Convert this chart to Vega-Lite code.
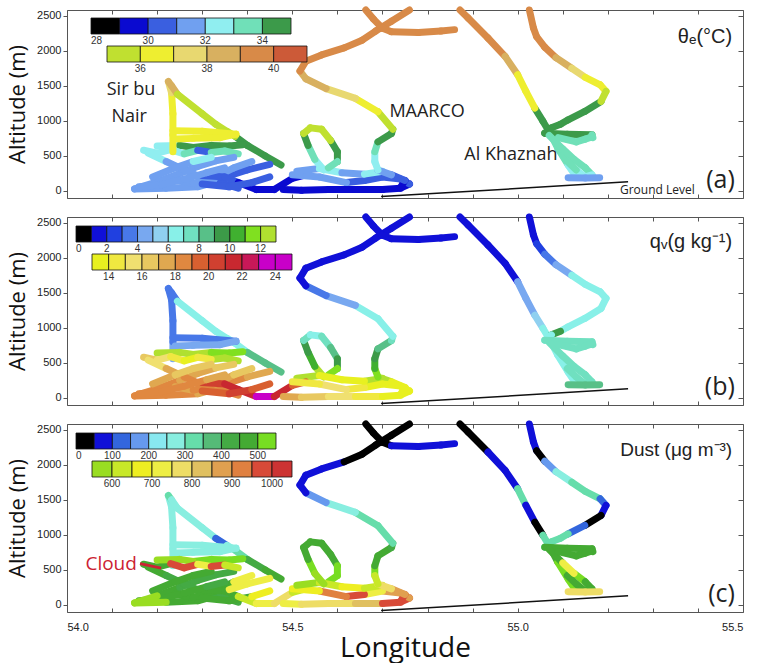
{
  "$schema": "https://vega.github.io/schema/vega-lite/v6.json",
  "padding": {"left": 6, "top": 6, "right": 0, "bottom": 0},
  "background": "white",
  "bounds": "flush",
  "spacing": 19,
  "datasets": {
    "track": [
      {"leg":"s1","lon":54.235,"alt":560,"th":36.5,"qv":4.5,"du":290},
      {"leg":"s1","lon":54.235,"alt":800,"th":36.5,"qv":3.5,"du":280},
      {"leg":"s1","lon":54.235,"alt":1100,"th":36.8,"qv":3.5,"du":270},
      {"leg":"s1","lon":54.232,"alt":1400,"th":37.0,"qv":3.6,"du":270},
      {"leg":"s1","lon":54.225,"alt":1560,"th":38.2,"qv":3.6,"du":300},
      {"leg":"s1","lon":54.232,"alt":1500,"th":38.0,"qv":3.5,"du":280},
      {"leg":"s1","lon":54.245,"alt":1380,"th":35.7,"qv":6.5,"du":280},
      {"leg":"s1","lon":54.30,"alt":1100,"th":35.8,"qv":6.5,"du":260},
      {"leg":"s1","lon":54.33,"alt":950,"th":35.6,"qv":6.5,"du":130},
      {"leg":"s1","lon":54.355,"alt":850,"th":35.5,"qv":6.5,"du":290},
      {"leg":"s1","lon":54.373,"alt":780,"th":34.5,"qv":6.6,"du":300},
      {"leg":"s1","lon":54.40,"alt":650,"th":34.5,"qv":8.5,"du":430},
      {"leg":"s1","lon":54.44,"alt":500,"th":34.3,"qv":8.5,"du":480},
      {"leg":"s1","lon":54.475,"alt":370,"th":33.5,"qv":7.8,"du":470},
      {"leg":"s2","lon":54.235,"alt":860,"th":36.5,"qv":3.5,"du":280},
      {"leg":"s2","lon":54.30,"alt":850,"th":36.6,"qv":3.5,"du":280},
      {"leg":"s2","lon":54.375,"alt":810,"th":36.5,"qv":4.5,"du":290},
      {"leg":"s2","lon":54.34,"alt":760,"th":36.3,"qv":4.8,"du":290},
      {"leg":"s2","lon":54.28,"alt":750,"th":36.2,"qv":4.8,"du":290},
      {"leg":"s2","lon":54.24,"alt":740,"th":36.2,"qv":4.8,"du":290},
      {"leg":"s3","lon":54.20,"alt":640,"th":32.5,"qv":12.5,"du":560},
      {"leg":"s3","lon":54.25,"alt":650,"th":34.5,"qv":12.2,"du":560},
      {"leg":"s3","lon":54.28,"alt":620,"th":34.6,"qv":12.5,"du":540},
      {"leg":"s3","lon":54.32,"alt":650,"th":34.5,"qv":11.5,"du":530},
      {"leg":"s3","lon":54.36,"alt":640,"th":34.5,"qv":11.0,"du":520},
      {"leg":"s3","lon":54.39,"alt":660,"th":34.4,"qv":10.5,"du":500},
      {"leg":"s4","lon":54.17,"alt":580,"th":32.5,"qv":16.5,"du":470},
      {"leg":"s4","lon":54.20,"alt":540,"th":32.6,"qv":15.5,"du":470},
      {"leg":"s4","lon":54.23,"alt":590,"th":32.5,"qv":14,"du":980},
      {"leg":"s4","lon":54.26,"alt":530,"th":33.5,"qv":13.5,"du":980},
      {"leg":"s4","lon":54.29,"alt":580,"th":30.5,"qv":14,"du":700},
      {"leg":"s4","lon":54.32,"alt":550,"th":33.5,"qv":12.5,"du":960},
      {"leg":"s4","lon":54.35,"alt":570,"th":33.5,"qv":12.5,"du":600},
      {"leg":"s4","lon":54.38,"alt":530,"th":34.5,"qv":12,"du":520},
      {"leg":"s5","lon":54.15,"alt":30,"th":31.5,"qv":18,"du":580},
      {"leg":"s5","lon":54.20,"alt":130,"th":31.5,"qv":18,"du":470},
      {"leg":"s5","lon":54.25,"alt":250,"th":31.5,"qv":17.5,"du":440},
      {"leg":"s5","lon":54.29,"alt":350,"th":31.5,"qv":17,"du":430},
      {"leg":"s5","lon":54.33,"alt":430,"th":31.5,"qv":16.5,"du":440},
      {"leg":"s5","lon":54.37,"alt":480,"th":32.0,"qv":15,"du":480},
      {"leg":"s6","lon":54.15,"alt":30,"th":31.5,"qv":18.5,"du":560},
      {"leg":"s6","lon":54.22,"alt":40,"th":31.5,"qv":18,"du":450},
      {"leg":"s6","lon":54.29,"alt":60,"th":31.2,"qv":17.5,"du":450},
      {"leg":"s6","lon":54.33,"alt":130,"th":30.5,"qv":19,"du":440},
      {"leg":"s6","lon":54.36,"alt":220,"th":30.5,"qv":18,"du":700},
      {"leg":"s6","lon":54.40,"alt":300,"th":30.5,"qv":17,"du":720},
      {"leg":"s6","lon":54.45,"alt":380,"th":31.5,"qv":16,"du":560},
      {"leg":"s7","lon":54.18,"alt":540,"th":32.5,"qv":15,"du":480},
      {"leg":"s7","lon":54.22,"alt":420,"th":31.5,"qv":17,"du":440},
      {"leg":"s7","lon":54.26,"alt":300,"th":31.5,"qv":18.5,"du":420},
      {"leg":"s7","lon":54.30,"alt":190,"th":31.3,"qv":18.5,"du":430},
      {"leg":"s7","lon":54.34,"alt":120,"th":30.5,"qv":18,"du":430},
      {"leg":"s7","lon":54.38,"alt":40,"th":30.5,"qv":20,"du":460},
      {"leg":"s8","lon":54.24,"alt":160,"th":31.5,"qv":17.5,"du":480},
      {"leg":"s8","lon":54.28,"alt":110,"th":31.5,"qv":18.5,"du":470},
      {"leg":"s8","lon":54.33,"alt":200,"th":31.0,"qv":17,"du":460},
      {"leg":"s8","lon":54.37,"alt":330,"th":31.2,"qv":16,"du":720},
      {"leg":"s8","lon":54.41,"alt":420,"th":31.5,"qv":15,"du":700},
      {"leg":"s9","lon":54.30,"alt":220,"th":30.5,"qv":20.5,"du":480},
      {"leg":"s9","lon":54.35,"alt":200,"th":30.5,"qv":21,"du":460},
      {"leg":"s9","lon":54.38,"alt":120,"th":29.5,"qv":21.5,"du":600},
      {"leg":"s9","lon":54.42,"alt":20,"th":29.5,"qv":23.5,"du":720},
      {"leg":"s9","lon":54.46,"alt":20,"th":29.5,"qv":21,"du":750},
      {"leg":"s9","lon":54.50,"alt":180,"th":29.8,"qv":19.5,"du":600},
      {"leg":"s9","lon":54.53,"alt":230,"th":30.0,"qv":15,"du":550},
      {"leg":"s10","lon":54.48,"alt":20,"th":29.5,"qv":17.5,"du":700},
      {"leg":"s10","lon":54.52,"alt":10,"th":29.5,"qv":16,"du":780},
      {"leg":"s10","lon":54.58,"alt":20,"th":29.5,"qv":15,"du":760},
      {"leg":"s10","lon":54.64,"alt":20,"th":29.5,"qv":14,"du":800},
      {"leg":"s10","lon":54.70,"alt":20,"th":29.5,"qv":13.5,"du":980},
      {"leg":"s10","lon":54.74,"alt":40,"th":29.8,"qv":13.5,"du":950},
      {"leg":"s10","lon":54.76,"alt":100,"th":30.3,"qv":13.5,"du":880},
      {"leg":"s10","lon":54.74,"alt":170,"th":30.5,"qv":13.5,"du":850},
      {"leg":"s10","lon":54.70,"alt":200,"th":30.5,"qv":13.8,"du":700},
      {"leg":"s10","lon":54.66,"alt":150,"th":30.5,"qv":14.5,"du":950},
      {"leg":"s10","lon":54.62,"alt":120,"th":31.0,"qv":15,"du":930},
      {"leg":"s10","lon":54.56,"alt":200,"th":31.5,"qv":14,"du":650},
      {"leg":"s10","lon":54.50,"alt":230,"th":30.8,"qv":13.8,"du":600},
      {"leg":"s11","lon":54.51,"alt":280,"th":31.5,"qv":12.5,"du":560},
      {"leg":"s11","lon":54.56,"alt":320,"th":32.0,"qv":13,"du":600},
      {"leg":"s11","lon":54.61,"alt":260,"th":31.5,"qv":13.5,"du":650},
      {"leg":"s11","lon":54.66,"alt":240,"th":32.0,"qv":12.5,"du":600},
      {"leg":"s11","lon":54.70,"alt":280,"th":32.2,"qv":12,"du":620},
      {"leg":"s12","lon":54.57,"alt":300,"th":32.5,"qv":12,"du":560},
      {"leg":"s12","lon":54.55,"alt":450,"th":33.5,"qv":10.5,"du":520},
      {"leg":"s12","lon":54.535,"alt":650,"th":34.5,"qv":9.5,"du":480},
      {"leg":"s12","lon":54.525,"alt":820,"th":35.5,"qv":7,"du":470},
      {"leg":"s12","lon":54.54,"alt":900,"th":35.6,"qv":6.8,"du":460},
      {"leg":"s12","lon":54.565,"alt":880,"th":35.5,"qv":7,"du":470},
      {"leg":"s12","lon":54.585,"alt":720,"th":34.6,"qv":8.5,"du":480},
      {"leg":"s12","lon":54.60,"alt":560,"th":34.3,"qv":9.5,"du":500},
      {"leg":"s12","lon":54.60,"alt":420,"th":33.5,"qv":11,"du":540},
      {"leg":"s12","lon":54.58,"alt":330,"th":32.5,"qv":12,"du":560},
      {"leg":"s13","lon":54.74,"alt":50,"th":29.6,"qv":13.5,"du":950},
      {"leg":"s13","lon":54.75,"alt":150,"th":30.5,"qv":13.2,"du":880},
      {"leg":"s13","lon":54.72,"alt":230,"th":31.5,"qv":12.8,"du":760},
      {"leg":"s13","lon":54.69,"alt":300,"th":32.5,"qv":11.5,"du":600},
      {"leg":"s13","lon":54.683,"alt":420,"th":32.5,"qv":10.5,"du":530},
      {"leg":"s13","lon":54.683,"alt":560,"th":33.5,"qv":9.5,"du":480},
      {"leg":"s13","lon":54.69,"alt":700,"th":34.5,"qv":8.5,"du":460},
      {"leg":"s13","lon":54.72,"alt":820,"th":34.5,"qv":7.5,"du":430},
      {"leg":"s13","lon":54.723,"alt":880,"th":35.5,"qv":6.8,"du":330},
      {"leg":"s13","lon":54.69,"alt":1130,"th":36.5,"qv":6.5,"du":300},
      {"leg":"s13","lon":54.64,"alt":1320,"th":37.5,"qv":4.5,"du":280},
      {"leg":"s13","lon":54.575,"alt":1460,"th":38.5,"qv":3.2,"du":150},
      {"leg":"s13","lon":54.53,"alt":1600,"th":38.8,"qv":1.8,"du":90},
      {"leg":"s13","lon":54.517,"alt":1710,"th":39.2,"qv":1.5,"du":80},
      {"leg":"s13","lon":54.53,"alt":1850,"th":39.5,"qv":1.5,"du":80},
      {"leg":"s13","lon":54.565,"alt":1940,"th":39.5,"qv":1.5,"du":90},
      {"leg":"s13","lon":54.615,"alt":2040,"th":39.5,"qv":1.5,"du":30},
      {"leg":"s13","lon":54.655,"alt":2150,"th":39.5,"qv":1.5,"du":20},
      {"leg":"s13","lon":54.685,"alt":2280,"th":39.5,"qv":1.5,"du":20},
      {"leg":"s13","lon":54.72,"alt":2420,"th":39.5,"qv":1.5,"du":20},
      {"leg":"s13","lon":54.76,"alt":2580,"th":39.5,"qv":1.5,"du":20},
      {"leg":"s14","lon":54.663,"alt":2580,"th":39.5,"qv":1.5,"du":20},
      {"leg":"s14","lon":54.68,"alt":2450,"th":39.5,"qv":1.5,"du":20},
      {"leg":"s14","lon":54.70,"alt":2320,"th":39.5,"qv":1.5,"du":20},
      {"leg":"s14","lon":54.72,"alt":2270,"th":39.5,"qv":1.5,"du":80},
      {"leg":"s14","lon":54.78,"alt":2260,"th":39.5,"qv":1.5,"du":70},
      {"leg":"s14","lon":54.83,"alt":2280,"th":39.5,"qv":1.5,"du":80},
      {"leg":"s14","lon":54.86,"alt":2300,"th":39.5,"qv":1.5,"du":80},
      {"leg":"s15","lon":54.872,"alt":2580,"th":39.5,"qv":1.5,"du":20},
      {"leg":"s15","lon":54.89,"alt":2467,"th":39.5,"qv":1.5,"du":20},
      {"leg":"s15","lon":54.934,"alt":2181,"th":39.2,"qv":1.5,"du":70},
      {"leg":"s15","lon":54.972,"alt":1920,"th":38.5,"qv":1.7,"du":70},
      {"leg":"s15","lon":55.0,"alt":1657,"th":36.5,"qv":4.5,"du":300},
      {"leg":"s15","lon":55.018,"alt":1424,"th":36.5,"qv":4.5,"du":80},
      {"leg":"s15","lon":55.038,"alt":1181,"th":34.5,"qv":5.0,"du":40},
      {"leg":"s15","lon":55.056,"alt":995,"th":34.5,"qv":6.0,"du":300},
      {"leg":"s15","lon":55.072,"alt":824,"th":33.5,"qv":6.5,"du":460},
      {"leg":"s15","lon":55.089,"alt":610,"th":33.5,"qv":6.5,"du":500},
      {"leg":"s15","lon":55.112,"alt":371,"th":32.5,"qv":6.8,"du":520},
      {"leg":"s15","lon":55.127,"alt":229,"th":32.5,"qv":6.8,"du":700},
      {"leg":"s16","lon":55.026,"alt":2580,"th":39.5,"qv":1.5,"du":60},
      {"leg":"s16","lon":55.035,"alt":2324,"th":39.5,"qv":1.5,"du":60},
      {"leg":"s16","lon":55.042,"alt":2200,"th":39.3,"qv":2.5,"du":20},
      {"leg":"s16","lon":55.06,"alt":2050,"th":39.0,"qv":3.2,"du":150},
      {"leg":"s16","lon":55.085,"alt":1900,"th":38.3,"qv":4.5,"du":250},
      {"leg":"s16","lon":55.12,"alt":1750,"th":37.5,"qv":6.5,"du":300},
      {"leg":"s16","lon":55.15,"alt":1620,"th":36.5,"qv":6.5,"du":300},
      {"leg":"s16","lon":55.183,"alt":1514,"th":36.5,"qv":6.5,"du":120},
      {"leg":"s16","lon":55.196,"alt":1420,"th":35.5,"qv":6.5,"du":80},
      {"leg":"s16","lon":55.185,"alt":1277,"th":34.5,"qv":6.5,"du":40},
      {"leg":"s16","lon":55.149,"alt":1134,"th":34.5,"qv":6.5,"du":100},
      {"leg":"s16","lon":55.112,"alt":1014,"th":34.5,"qv":6.5,"du":300},
      {"leg":"s16","lon":55.095,"alt":950,"th":34.6,"qv":9.2,"du":300},
      {"leg":"s16","lon":55.075,"alt":900,"th":34.5,"qv":6.5,"du":320},
      {"leg":"s16","lon":55.06,"alt":824,"th":34.5,"qv":6.8,"du":350},
      {"leg":"s17","lon":55.06,"alt":824,"th":34.5,"qv":7.5,"du":450},
      {"leg":"s17","lon":55.11,"alt":810,"th":34.5,"qv":7.5,"du":460},
      {"leg":"s17","lon":55.165,"alt":800,"th":33.5,"qv":7.5,"du":470},
      {"leg":"s17","lon":55.167,"alt":760,"th":33.5,"qv":7.5,"du":470},
      {"leg":"s18","lon":55.07,"alt":790,"th":33.5,"qv":7.5,"du":480},
      {"leg":"s18","lon":55.10,"alt":600,"th":33.5,"qv":7.5,"du":720},
      {"leg":"s18","lon":55.125,"alt":450,"th":33.5,"qv":7.5,"du":500},
      {"leg":"s18","lon":55.15,"alt":330,"th":33.2,"qv":7.5,"du":480},
      {"leg":"s18","lon":55.165,"alt":230,"th":32.5,"qv":7.5,"du":470},
      {"leg":"s18","lon":55.15,"alt":200,"th":32.5,"qv":7.5,"du":470},
      {"leg":"s18","lon":55.13,"alt":300,"th":33.0,"qv":7.5,"du":480},
      {"leg":"s18","lon":55.11,"alt":420,"th":33.3,"qv":7.5,"du":480},
      {"leg":"s19","lon":55.09,"alt":760,"th":33.5,"qv":7.5,"du":480},
      {"leg":"s19","lon":55.13,"alt":700,"th":33.5,"qv":7.5,"du":480},
      {"leg":"s19","lon":55.15,"alt":740,"th":33.5,"qv":7.5,"du":480},
      {"leg":"s19","lon":55.16,"alt":760,"th":33.5,"qv":7.5,"du":480},
      {"leg":"s20","lon":55.112,"alt":190,"th":31.5,"qv":8.5,"du":760},
      {"leg":"s20","lon":55.15,"alt":185,"th":31.5,"qv":8.5,"du":760},
      {"leg":"s20","lon":55.182,"alt":190,"th":31.5,"qv":8.5,"du":760},
      {"leg":"s21","lon":54.16,"alt":60,"th":31.5,"qv":18,"du":470},
      {"leg":"s21","lon":54.21,"alt":90,"th":31.5,"qv":18,"du":460},
      {"leg":"s21","lon":54.26,"alt":170,"th":31.5,"qv":18,"du":450},
      {"leg":"s21","lon":54.31,"alt":260,"th":31.5,"qv":17.5,"du":440},
      {"leg":"s21","lon":54.35,"alt":330,"th":31.5,"qv":17,"du":450},
      {"leg":"s22","lon":54.19,"alt":200,"th":31.5,"qv":17,"du":450},
      {"leg":"s22","lon":54.24,"alt":330,"th":31.8,"qv":16.5,"du":450},
      {"leg":"s22","lon":54.28,"alt":420,"th":32.5,"qv":16,"du":450},
      {"leg":"s22","lon":54.32,"alt":480,"th":32.5,"qv":15,"du":450},
      {"leg":"s23","lon":54.30,"alt":100,"th":30.5,"qv":19,"du":470},
      {"leg":"s23","lon":54.36,"alt":60,"th":30.5,"qv":20,"du":480},
      {"leg":"s23","lon":54.41,"alt":120,"th":30.5,"qv":19,"du":650},
      {"leg":"s23","lon":54.45,"alt":200,"th":30.0,"qv":18,"du":620}
    ]
  },
  "vconcat": [
    {
      "width": 676, "height": 188,
      "layer": [
        {
          "data": {"name": "track"},
          "transform": [
            {"window": [{"op": "lead", "field": "lon", "as": "lon2"}, {"op": "lead", "field": "alt", "as": "alt2"}], "groupby": ["leg"]},
            {"filter": "isValid(datum.lon2) && datum.th < 35"}
          ],
          "mark": {"type": "rule", "strokeWidth": 7, "strokeCap": "round"},
          "encoding": {
            "x": {"field": "lon", "type": "quantitative", "scale": {"domain": [54, 55.5], "nice": false, "zero": false}, "axis": {"values": [54,54.1,54.2,54.3,54.4,54.5,54.6,54.7,54.8,54.9,55,55.1,55.2,55.3,55.4,55.5], "labels": false, "tickSize": -4, "domain": false, "title": null}},
            "x2": {"field": "lon2"},
            "y": {"field": "alt", "type": "quantitative", "scale": {"domain": [-100, 2580], "nice": false, "zero": false}, "axis": {"values": [0,500,1000,1500,2000,2500], "format": "d", "tickSize": 4, "labelPadding": 2, "domain": false, "title": "Altitude (m)", "titleFontSize": 22, "titlePadding": 7}},
            "y2": {"field": "alt2"},
            "color": {"field": "th", "type": "quantitative", "scale": {"type": "threshold", "domain": [29,30,31,32,33,34], "range": ["#000000","#0a0ad0","#3a5fe0","#70a0f0","#90eef0","#70e0b8","#3c9a4a"]}, "legend": {"orient": "top-left", "direction": "horizontal", "gradientLength": 203, "gradientThickness": 7, "title": "\u2800\u2800", "titleOrient": "left", "titlePadding": 0, "labelAlign": "center", "labelExpr": "datum.value < 29 ? '28' : (datum.value % 2 == 0 ? datum.label : '')", "offset": 8, "padding": 0}}
          }
        },
        {
          "data": {"name": "track"},
          "transform": [
            {"window": [{"op": "lead", "field": "lon", "as": "lon2"}, {"op": "lead", "field": "alt", "as": "alt2"}], "groupby": ["leg"]},
            {"filter": "isValid(datum.lon2) && datum.th >= 35"}
          ],
          "mark": {"type": "rule", "strokeWidth": 7, "strokeCap": "round"},
          "encoding": {
            "x": {"field": "lon", "type": "quantitative", "axis": null},
            "x2": {"field": "lon2"},
            "y": {"field": "alt", "type": "quantitative", "axis": null},
            "y2": {"field": "alt2"},
            "color": {"field": "th", "type": "quantitative", "scale": {"type": "threshold", "domain": [36,37,38,39,40], "range": ["#c0e030","#eeee30","#e8d870","#d8b060","#d88a48","#cc5a38"]}, "legend": {"orient": "top-left", "direction": "horizontal", "gradientLength": 174, "gradientThickness": 7, "title": "\u2800\u2800\u2800\u2800", "titleOrient": "left", "titlePadding": 0, "labelAlign": "center", "labelExpr": "datum.value % 2 == 0 ? datum.label : ''", "offset": 8, "padding": 0}}
          }
        },
        {
          "data": {"values": [{"lon": 54.697, "alt": -80}, {"lon": 55.245, "alt": 130}]},
          "mark": {"type": "line", "color": "#111", "strokeWidth": 1.5},
          "encoding": {
            "x": {"field": "lon", "type": "quantitative", "axis": {"orient": "top", "values": [54,54.1,54.2,54.3,54.4,54.5,54.6,54.7,54.8,54.9,55,55.1,55.2,55.3,55.4,55.5], "labels": false, "tickSize": -4, "domain": false, "title": null}},
            "y": {"field": "alt", "type": "quantitative", "axis": {"orient": "right", "values": [0,500,1000,1500,2000,2500], "labels": false, "tickSize": -5, "domain": false, "title": null}}
          }
        },
        {
          "data": {"values": [{"lon": 54.142, "alt": 1440, "label": "Sir bu"}, {"lon": 54.138, "alt": 1055, "label": "Nair"}, {"lon": 54.799, "alt": 1122, "label": "MAARCO"}, {"lon": 54.985, "alt": 511, "label": "Al Khaznah"}]},
          "mark": {"type": "text", "font": "Open Sans", "fontSize": 18, "color": "#222", "align": "center", "baseline": "middle"},
          "encoding": {
            "x": {"field": "lon", "type": "quantitative", "axis": null},
            "y": {"field": "alt", "type": "quantitative", "axis": null},
            "text": {"field": "label"}
          }
        },
        {
          "data": {"values": [{"lon": 55.227, "alt": 14, "label": "Ground Level"}]},
          "mark": {"type": "text", "font": "Open Sans", "fontSize": 12, "color": "#222", "align": "left", "baseline": "middle"},
          "encoding": {
            "x": {"field": "lon", "type": "quantitative", "axis": null},
            "y": {"field": "alt", "type": "quantitative", "axis": null},
            "text": {"field": "label"}
          }
        },
        {
          "data": {"values": [{"lon": 55.476, "alt": 2190, "label": "θₑ(°C)"}]},
          "mark": {"type": "text", "font": "Liberation Sans", "fontSize": 20, "color": "#222", "align": "right", "baseline": "middle"},
          "encoding": {
            "x": {"field": "lon", "type": "quantitative", "axis": null},
            "y": {"field": "alt", "type": "quantitative", "axis": null},
            "text": {"field": "label"}
          }
        },
        {
          "data": {"values": [{"lon": 55.482, "alt": 150, "label": "(a)"}]},
          "mark": {"type": "text", "font": "Open Sans", "fontSize": 25, "color": "#222", "align": "right", "baseline": "middle"},
          "encoding": {
            "x": {"field": "lon", "type": "quantitative", "axis": null},
            "y": {"field": "alt", "type": "quantitative", "axis": null},
            "text": {"field": "label"}
          }
        }
      ],
      "resolve": {"scale": {"color": "independent"}, "axis": {"x": "independent", "y": "independent"}}
    },
    {
      "width": 676, "height": 188,
      "layer": [
        {
          "data": {"name": "track"},
          "transform": [
            {"window": [{"op": "lead", "field": "lon", "as": "lon2"}, {"op": "lead", "field": "alt", "as": "alt2"}], "groupby": ["leg"]},
            {"filter": "isValid(datum.lon2) && datum.qv < 13"}
          ],
          "mark": {"type": "rule", "strokeWidth": 7, "strokeCap": "round"},
          "encoding": {
            "x": {"field": "lon", "type": "quantitative", "scale": {"domain": [54, 55.5], "nice": false, "zero": false}, "axis": {"values": [54,54.1,54.2,54.3,54.4,54.5,54.6,54.7,54.8,54.9,55,55.1,55.2,55.3,55.4,55.5], "labels": false, "tickSize": -4, "domain": false, "title": null}},
            "x2": {"field": "lon2"},
            "y": {"field": "alt", "type": "quantitative", "scale": {"domain": [-100, 2580], "nice": false, "zero": false}, "axis": {"values": [0,500,1000,1500,2000,2500], "format": "d", "tickSize": 4, "labelPadding": 2, "domain": false, "title": "Altitude (m)", "titleFontSize": 22, "titlePadding": 7}},
            "y2": {"field": "alt2"},
            "color": {"field": "qv", "type": "quantitative", "scale": {"type": "threshold", "domain": [1,2,3,4,5,6,7,8,9,10,11,12], "range": ["#000000","#1010d8","#2040e0","#4878e8","#78a8f0","#90d0f0","#88f0e8","#70e0c0","#58c088","#3c9a48","#40b030","#80e020","#b0e030"]}, "legend": {"orient": "top-left", "direction": "horizontal", "gradientLength": 234, "gradientThickness": 7, "title": null, "labelAlign": "center", "labelExpr": "datum.value < 1 ? '0' : (datum.value % 2 == 0 ? datum.label : '')", "offset": 9, "padding": 0}}
          }
        },
        {
          "data": {"name": "track"},
          "transform": [
            {"window": [{"op": "lead", "field": "lon", "as": "lon2"}, {"op": "lead", "field": "alt", "as": "alt2"}], "groupby": ["leg"]},
            {"filter": "isValid(datum.lon2) && datum.qv >= 13"}
          ],
          "mark": {"type": "rule", "strokeWidth": 7, "strokeCap": "round"},
          "encoding": {
            "x": {"field": "lon", "type": "quantitative", "axis": null},
            "x2": {"field": "lon2"},
            "y": {"field": "alt", "type": "quantitative", "axis": null},
            "y2": {"field": "alt2"},
            "color": {"field": "qv", "type": "quantitative", "scale": {"type": "threshold", "domain": [14,15,16,17,18,19,20,21,22,23,24], "range": ["#e8f020","#f0e840","#f0e070","#e8c860","#e0a850","#e08840","#d86030","#d04030","#c82830","#c81858","#c800c8","#c800c8"]}, "legend": {"orient": "top-left", "direction": "horizontal", "gradientLength": 216, "gradientThickness": 7, "title": "\u2800\u2800", "titleOrient": "left", "titlePadding": 0, "labelAlign": "center", "labelExpr": "datum.value % 2 == 0 ? datum.label : ''", "offset": 9, "padding": 0}}
          }
        },
        {
          "data": {"values": [{"lon": 54.697, "alt": -80}, {"lon": 55.245, "alt": 130}]},
          "mark": {"type": "line", "color": "#111", "strokeWidth": 1.5},
          "encoding": {
            "x": {"field": "lon", "type": "quantitative", "axis": {"orient": "top", "values": [54,54.1,54.2,54.3,54.4,54.5,54.6,54.7,54.8,54.9,55,55.1,55.2,55.3,55.4,55.5], "labels": false, "tickSize": -4, "domain": false, "title": null}},
            "y": {"field": "alt", "type": "quantitative", "axis": {"orient": "right", "values": [0,500,1000,1500,2000,2500], "labels": false, "tickSize": -5, "domain": false, "title": null}}
          }
        },
        {
          "data": {"values": [{"lon": 55.476, "alt": 2230, "label": "qᵥ(g kg⁻¹)"}]},
          "mark": {"type": "text", "font": "Liberation Sans", "fontSize": 20, "color": "#222", "align": "right", "baseline": "middle"},
          "encoding": {
            "x": {"field": "lon", "type": "quantitative", "axis": null},
            "y": {"field": "alt", "type": "quantitative", "axis": null},
            "text": {"field": "label"}
          }
        },
        {
          "data": {"values": [{"lon": 55.482, "alt": 160, "label": "(b)"}]},
          "mark": {"type": "text", "font": "Open Sans", "fontSize": 25, "color": "#222", "align": "right", "baseline": "middle"},
          "encoding": {
            "x": {"field": "lon", "type": "quantitative", "axis": null},
            "y": {"field": "alt", "type": "quantitative", "axis": null},
            "text": {"field": "label"}
          }
        }
      ],
      "resolve": {"scale": {"color": "independent"}, "axis": {"x": "independent", "y": "independent"}}
    },
    {
      "width": 676, "height": 188,
      "layer": [
        {
          "data": {"name": "track"},
          "transform": [
            {"window": [{"op": "lead", "field": "lon", "as": "lon2"}, {"op": "lead", "field": "alt", "as": "alt2"}], "groupby": ["leg"]},
            {"filter": "isValid(datum.lon2) && datum.du < 550"}
          ],
          "mark": {"type": "rule", "strokeWidth": 7, "strokeCap": "round"},
          "encoding": {
            "x": {"field": "lon", "type": "quantitative", "scale": {"domain": [54, 55.5], "nice": false, "zero": false}, "axis": {"values": [54,54.1,54.2,54.3,54.4,54.5,54.6,54.7,54.8,54.9,55,55.1,55.2,55.3,55.4,55.5], "labelExpr": "abs(datum.value*2 - round(datum.value*2)) < 0.001 ? format(datum.value, '.1f') : ''", "tickSize": -4, "labelPadding": 13, "domain": false, "title": "Longitude", "titleFontSize": 28, "titlePadding": 2}},
            "x2": {"field": "lon2"},
            "y": {"field": "alt", "type": "quantitative", "scale": {"domain": [-100, 2580], "nice": false, "zero": false}, "axis": {"values": [0,500,1000,1500,2000,2500], "format": "d", "tickSize": 4, "labelPadding": 2, "domain": false, "title": "Altitude (m)", "titleFontSize": 22, "titlePadding": 7}},
            "y2": {"field": "alt2"},
            "color": {"field": "du", "type": "quantitative", "scale": {"type": "threshold", "domain": [50,100,150,200,250,300,350,400,450,500], "range": ["#000000","#1010d8","#3366dd","#6699ee","#88e8f0","#88eee0","#66ddaa","#55bb77","#44aa44","#44aa33","#77dd22"]}, "legend": {"orient": "top-left", "direction": "horizontal", "gradientLength": 237, "gradientThickness": 7, "title": null, "labelAlign": "center", "labelExpr": "datum.value < 50 ? '0' : (datum.value % 100 == 0 ? datum.label : '')", "offset": 9, "padding": 0}}
          }
        },
        {
          "data": {"name": "track"},
          "transform": [
            {"window": [{"op": "lead", "field": "lon", "as": "lon2"}, {"op": "lead", "field": "alt", "as": "alt2"}], "groupby": ["leg"]},
            {"filter": "isValid(datum.lon2) && datum.du >= 550"}
          ],
          "mark": {"type": "rule", "strokeWidth": 7, "strokeCap": "round"},
          "encoding": {
            "x": {"field": "lon", "type": "quantitative", "axis": null},
            "x2": {"field": "lon2"},
            "y": {"field": "alt", "type": "quantitative", "axis": null},
            "y2": {"field": "alt2"},
            "color": {"field": "du", "type": "quantitative", "scale": {"type": "threshold", "domain": [600,650,700,750,800,850,900,950,1000], "range": ["#99dd22","#c8e828","#eeee22","#eeee44","#eedd66","#e0c060","#e0a050","#e08040","#d84a38","#cc3333"]}, "legend": {"orient": "top-left", "direction": "horizontal", "gradientLength": 215, "gradientThickness": 7, "title": "\u2800\u2800", "titleOrient": "left", "titlePadding": 0, "labelAlign": "center", "labelExpr": "datum.value % 100 == 0 ? datum.label : ''", "offset": 9, "padding": 0}}
          }
        },
        {
          "data": {"values": [{"lon": 54.697, "alt": -80}, {"lon": 55.245, "alt": 130}]},
          "mark": {"type": "line", "color": "#111", "strokeWidth": 1.5},
          "encoding": {
            "x": {"field": "lon", "type": "quantitative", "axis": {"orient": "top", "values": [54,54.1,54.2,54.3,54.4,54.5,54.6,54.7,54.8,54.9,55,55.1,55.2,55.3,55.4,55.5], "labels": false, "tickSize": -4, "domain": false, "title": null}},
            "y": {"field": "alt", "type": "quantitative", "axis": {"orient": "right", "values": [0,500,1000,1500,2000,2500], "labels": false, "tickSize": -5, "domain": false, "title": null}}
          }
        },
        {
          "data": {"values": [{"lon": 54.162, "alt": 590}, {"lon": 54.209, "alt": 525}]},
          "mark": {"type": "line", "color": "#cc2233", "strokeWidth": 3},
          "encoding": {
            "x": {"field": "lon", "type": "quantitative", "axis": null},
            "y": {"field": "alt", "type": "quantitative", "axis": null}
          }
        },
        {
          "data": {"values": [{"lon": 54.098, "alt": 590, "label": "Cloud"}]},
          "mark": {"type": "text", "font": "Open Sans", "fontSize": 19, "color": "#cc2233", "align": "center", "baseline": "middle"},
          "encoding": {
            "x": {"field": "lon", "type": "quantitative", "axis": null},
            "y": {"field": "alt", "type": "quantitative", "axis": null},
            "text": {"field": "label"}
          }
        },
        {
          "data": {"values": [{"lon": 55.476, "alt": 2210, "label": "Dust (μg m⁻³)"}]},
          "mark": {"type": "text", "font": "Liberation Sans", "fontSize": 19, "color": "#222", "align": "right", "baseline": "middle"},
          "encoding": {
            "x": {"field": "lon", "type": "quantitative", "axis": null},
            "y": {"field": "alt", "type": "quantitative", "axis": null},
            "text": {"field": "label"}
          }
        },
        {
          "data": {"values": [{"lon": 55.482, "alt": 150, "label": "(c)"}]},
          "mark": {"type": "text", "font": "Open Sans", "fontSize": 25, "color": "#222", "align": "right", "baseline": "middle"},
          "encoding": {
            "x": {"field": "lon", "type": "quantitative", "axis": null},
            "y": {"field": "alt", "type": "quantitative", "axis": null},
            "text": {"field": "label"}
          }
        }
      ],
      "resolve": {"scale": {"color": "independent"}, "axis": {"x": "independent", "y": "independent"}}
    }
  ],
  "resolve": {"scale": {"color": "independent"}},
  "config": {
    "view": {"stroke": "#555", "strokeWidth": 1},
    "axis": {"labelFont": "Liberation Sans", "labelFontSize": 11, "labelColor": "#222", "tickColor": "#555", "tickWidth": 1, "grid": false, "titleFont": "Open Sans", "titleFontWeight": "normal", "titleColor": "#111"},
    "legend": {"labelFont": "Liberation Sans", "labelFontSize": 10, "labelColor": "#333", "titleFont": "DejaVu Sans", "titleFontSize": 10, "gradientStrokeColor": "#111", "gradientStrokeWidth": 0.8, "labelOffset": 3, "labelOverlap": false, "layout": {"top-left": {"direction": "vertical", "margin": 0}}}
  }
}
